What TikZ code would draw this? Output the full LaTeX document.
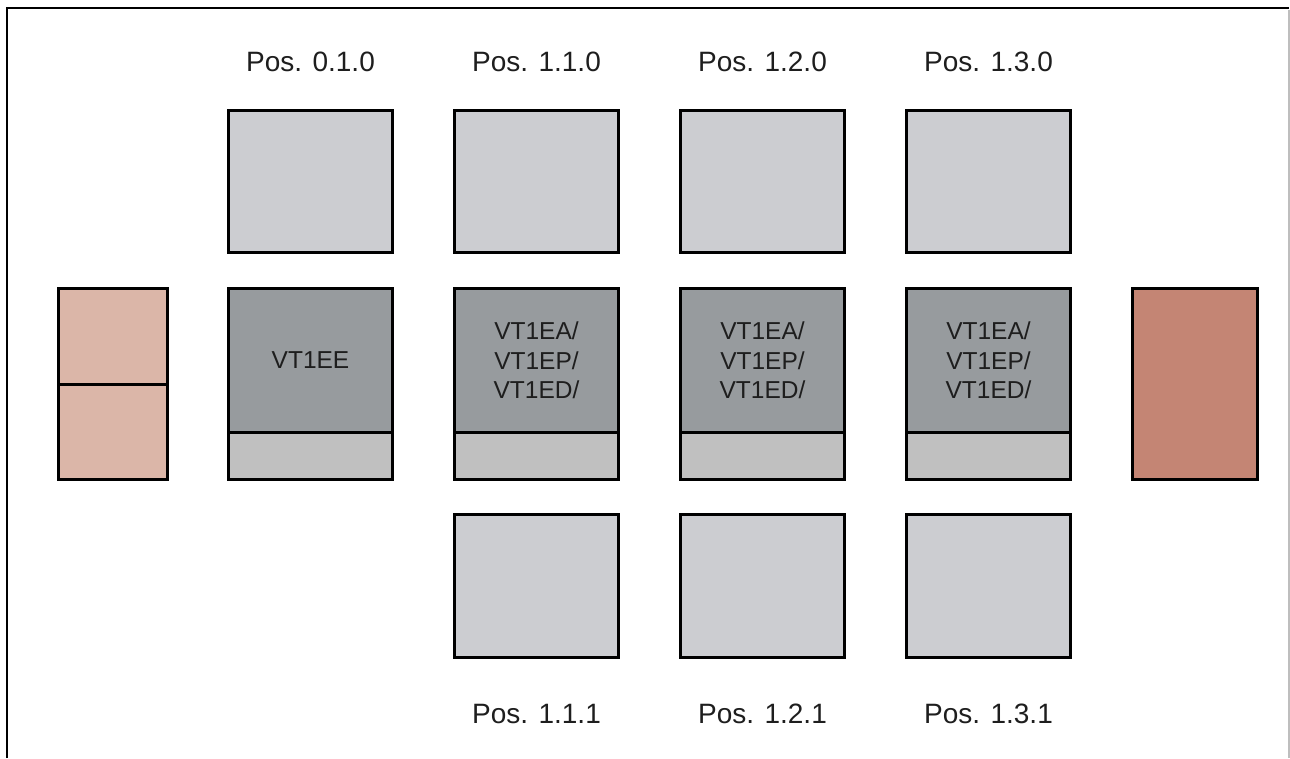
\documentclass[tikz,border=0pt]{standalone}
\usepackage{fontspec}
\setmainfont{Liberation Sans}
\definecolor{lightbox}{RGB}{204,205,209}
\definecolor{darkbox}{RGB}{151,155,158}
\definecolor{stripbox}{RGB}{192,192,192}
\definecolor{pinkbox}{RGB}{219,182,168}
\definecolor{redbox}{RGB}{196,133,116}
\definecolor{txt}{RGB}{30,30,30}
\definecolor{edgegray}{RGB}{190,190,190}
\begin{document}
\begin{tikzpicture}[x=1pt,y=-1pt,
  box/.style={draw=black,line width=3pt,rectangle,inner sep=0pt,minimum width=164pt},
  topbox/.style={box,fill=lightbox,minimum height=142.5pt},
  botbox/.style={box,fill=lightbox,minimum height=143pt},
  modbox/.style={box,fill=darkbox,minimum height=143.5pt,text=txt,align=center,font=\fontsize{24.5}{29.5}\selectfont},
  stripb/.style={box,fill=stripbox,minimum height=47.5pt},
  poslabel/.style={text=txt,font=\fontsize{28}{32}\selectfont,inner sep=0pt},
]
\useasboundingbox (0,0) rectangle (1290,758);
% frame
\draw[line width=2.5pt,black] (7,758) -- (7,8) -- (1289,8);
\draw[line width=1.5pt,edgegray] (1289.2,9.5) -- (1289.2,758);

% left pink box
\node[box,fill=pinkbox,minimum width=109pt,minimum height=95.5pt] (lpu) at (113,336.25) {};
\node[box,fill=pinkbox,minimum width=109pt,minimum height=95.5pt] (lpl) at (113,431.75) {};
% right red box
\node[box,fill=redbox,minimum width=125pt,minimum height=191pt] (rr) at (1195,384) {};

% column 0
\node[poslabel] (p010) at (310.5,62) {Pos. 0.1.0};
\node[topbox] (t0) at (310.5,181.35) {};
\node[modbox] (m0) at (310.5,360.25) {VT1EE};
\node[stripb] (s0) at (310.5,455.75) {};

% column 1
\node[poslabel] (p110) at (536.5,62) {Pos. 1.1.0};
\node[topbox] (t1) at (536.5,181.35) {};
\node[modbox] (m1) at (536.5,360.25) {VT1EA/\\VT1EP/\\VT1ED/};
\node[stripb] (s1) at (536.5,455.75) {};
\node[botbox] (b1) at (536.5,586) {};
\node[poslabel] (p111) at (536.5,714) {Pos. 1.1.1};

% column 2
\node[poslabel] (p120) at (762.5,62) {Pos. 1.2.0};
\node[topbox] (t2) at (762.5,181.35) {};
\node[modbox] (m2) at (762.5,360.25) {VT1EA/\\VT1EP/\\VT1ED/};
\node[stripb] (s2) at (762.5,455.75) {};
\node[botbox] (b2) at (762.5,586) {};
\node[poslabel] (p121) at (762.5,714) {Pos. 1.2.1};

% column 3
\node[poslabel] (p130) at (988.5,62) {Pos. 1.3.0};
\node[topbox] (t3) at (988.5,181.35) {};
\node[modbox] (m3) at (988.5,360.25) {VT1EA/\\VT1EP/\\VT1ED/};
\node[stripb] (s3) at (988.5,455.75) {};
\node[botbox] (b3) at (988.5,586) {};
\node[poslabel] (p131) at (988.5,714) {Pos. 1.3.1};
\end{tikzpicture}
\end{document}
